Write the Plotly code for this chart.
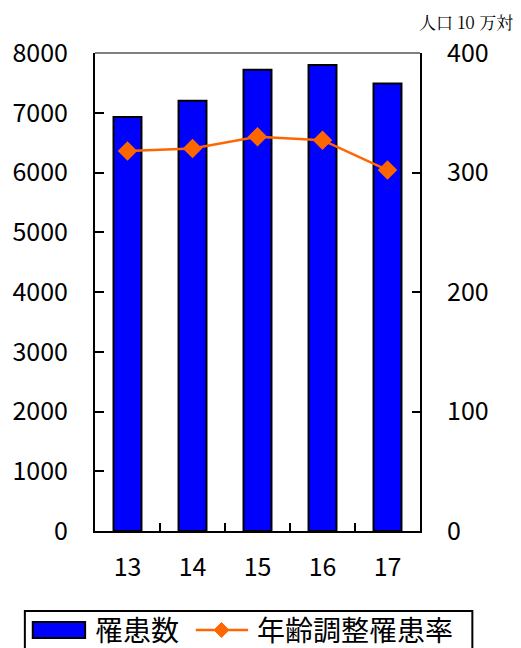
import plotly.graph_objects as go

years = ["13", "14", "15", "16", "17"]
patients = [6930, 7200, 7720, 7800, 7490]
rate = [318, 320, 330, 327, 302]
series_names = ["罹患数", "年齢調整罹患率"]

FONT = "Noto Sans CJK JP"
BLUE = "#0000FF"
ORANGE = "#FF6600"

W, H = 521, 648
L, R, T, B = 91, 420, 53, 531  # plot area in pixels


def px(x):
    return (x - L) / (R - L)


def py(y):
    return (B - y) / (B - T)


fig = go.Figure()
fig.add_trace(go.Bar(
    x=years, y=patients, name=series_names[0],
    marker=dict(color=BLUE, line=dict(color="black", width=2)),
    yaxis="y"))
fig.add_trace(go.Scatter(
    x=years, y=rate, name=series_names[1], mode="lines+markers",
    line=dict(color=ORANGE, width=2.5),
    marker=dict(symbol="diamond", size=15, color=ORANGE),
    yaxis="y2"))

fig.update_layout(
    width=W, height=H,
    margin=dict(l=L, r=W - R, t=T, b=H - B),
    paper_bgcolor="white", plot_bgcolor="white",
    font=dict(family=FONT, size=25, color="black"),
    bargap=0.57,
    showlegend=False,
    xaxis=dict(showline=True, linecolor="black", linewidth=2, mirror=False,
               ticks="", tickfont=dict(size=25), ticklabelstandoff=13, showgrid=False),
    yaxis=dict(range=[0, 8000], dtick=1000, showline=True, linecolor="black", linewidth=2,
               ticks="inside", ticklen=9, tickwidth=2, tickcolor="black",
               showgrid=False, zeroline=False, ticklabelstandoff=20),
    yaxis2=dict(range=[0, 400], dtick=100, overlaying="y", side="right",
                showline=True, linecolor="black", linewidth=2,
                ticks="inside", ticklen=8, tickwidth=2, tickcolor="black",
                showgrid=False, zeroline=False, ticklabelstandoff=20),
)

# grey top border
fig.add_shape(type="line", xref="paper", yref="paper", x0=0, x1=1, y0=1, y1=1,
              line=dict(color="#808080", width=2))
# category separator ticks on x-axis (inside)
for i in range(len(years) - 1):
    fig.add_shape(type="line", xref="x", yref="paper", x0=i + 0.5, x1=i + 0.5,
                  y0=0, y1=py(B - 8), line=dict(color="black", width=2))

# unit annotation
fig.add_annotation(text="人口 10 万対", xref="paper", yref="paper", x=px(515), y=py(21),
                   xanchor="right", yanchor="middle", showarrow=False, borderpad=0,
                   font=dict(size=17, family="Noto Serif CJK JP, DejaVu Serif, Noto Sans CJK JP"))

# custom legend
fig.add_shape(type="rect", xref="paper", yref="paper",
              x0=px(20), x1=px(473), y0=py(611), y1=py(660),
              line=dict(color="black", width=2), fillcolor="white")
fig.add_shape(type="rect", xref="paper", yref="paper",
              x0=px(28), x1=px(81), y0=py(622), y1=py(638),
              line=dict(color="black", width=2), fillcolor=BLUE)
fig.add_annotation(text=series_names[0], xref="paper", yref="paper", x=px(90), y=py(629),
                   xanchor="left", yanchor="middle", showarrow=False, borderpad=0,
                   font=dict(size=28, family=FONT))
fig.add_shape(type="line", xref="paper", yref="paper",
              x0=px(193), x1=px(246), y0=py(630), y1=py(630),
              line=dict(color=ORANGE, width=2.5))
cx, cy, d = 219, 630, 7.5
fig.add_shape(type="path", xref="paper", yref="paper",
              path=f"M {px(cx)} {py(cy - d)} L {px(cx + d)} {py(cy)} L {px(cx)} {py(cy + d)} L {px(cx - d)} {py(cy)} Z",
              line=dict(color=ORANGE, width=1), fillcolor=ORANGE)
fig.add_annotation(text=series_names[1], xref="paper", yref="paper", x=px(254), y=py(629),
                   xanchor="left", yanchor="middle", showarrow=False, borderpad=0,
                   font=dict(size=28, family=FONT))

fig.write_html("out.html", config={"displayModeBar": False},
               post_script="document.body.style.margin='0';document.body.style.overflow='hidden';")
